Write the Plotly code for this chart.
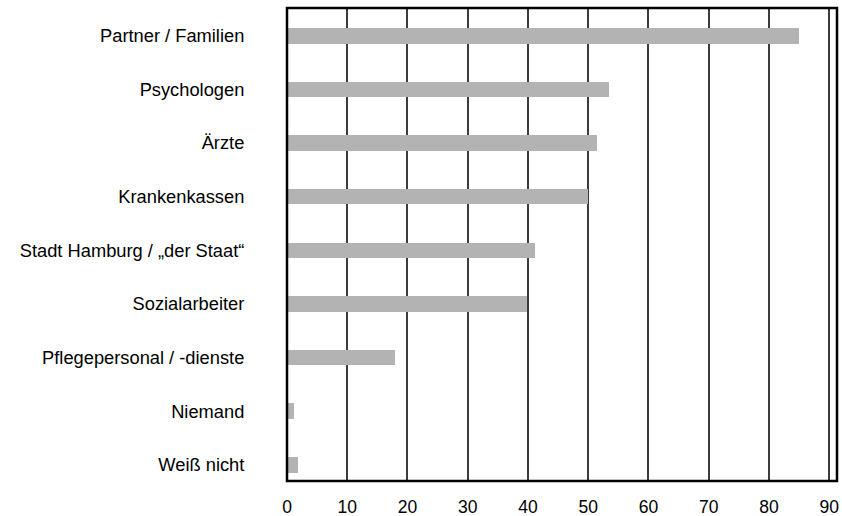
import plotly.graph_objects as go

categories = [
    "Partner / Familien",
    "Psychologen",
    "Ärzte",
    "Krankenkassen",
    "Stadt Hamburg / „der Staat“",
    "Sozialarbeiter",
    "Pflegepersonal / -dienste",
    "Niemand",
    "Weiß nicht",
]
values = [85.0, 53.4, 51.4, 49.9, 41.1, 39.8, 17.9, 1.1, 1.9]
x_ticks = [0, 10, 20, 30, 40, 50, 60, 70, 80, 90]

fig = go.Figure()
fig.add_trace(go.Bar(
    x=values,
    y=categories,
    orientation="h",
    width=0.29,
    marker=dict(color="#b3b3b3", line=dict(width=0)),
    hoverinfo="x+y",
))

font_family = "Liberation Sans, Arial, Helvetica, sans-serif"

fig.update_layout(
    width=842,
    height=516,
    margin=dict(l=287, r=5, t=8, b=35, autoexpand=False),
    paper_bgcolor="white",
    plot_bgcolor="white",
    showlegend=False,
    font=dict(family=font_family, size=18, color="black"),
    bargap=0,
)
fig.update_xaxes(
    range=[0, 91.3],
    tickvals=x_ticks,
    ticktext=[str(v) for v in x_ticks],
    showgrid=True,
    gridcolor="#3c3c3c",
    gridwidth=1.5,
    zeroline=False,
    showline=False,
    ticks="outside",
    ticklen=10,
    tickcolor="rgba(0,0,0,0)",
    tickfont=dict(size=17.5, family=font_family, color="black"),
    automargin=False,
    fixedrange=True,
)
fig.update_yaxes(
    type="category",
    categoryorder="array",
    categoryarray=categories,
    range=[8.30, -0.517],
    showgrid=False,
    zeroline=False,
    showline=False,
    ticks="outside",
    ticklen=38,
    tickcolor="rgba(0,0,0,0)",
    tickfont=dict(size=18.3, family=font_family, color="black"),
    automargin=False,
    fixedrange=True,
)
fig.add_shape(
    type="rect", xref="paper", yref="paper",
    x0=0, x1=1, y0=0, y1=1,
    line=dict(color="black", width=2.5),
    fillcolor="rgba(0,0,0,0)",
    layer="above",
)

fig.write_html(
    "out.html",
    config={"displayModeBar": False},
    post_script="document.body.style.margin='0';document.body.style.overflow='hidden';",
)
